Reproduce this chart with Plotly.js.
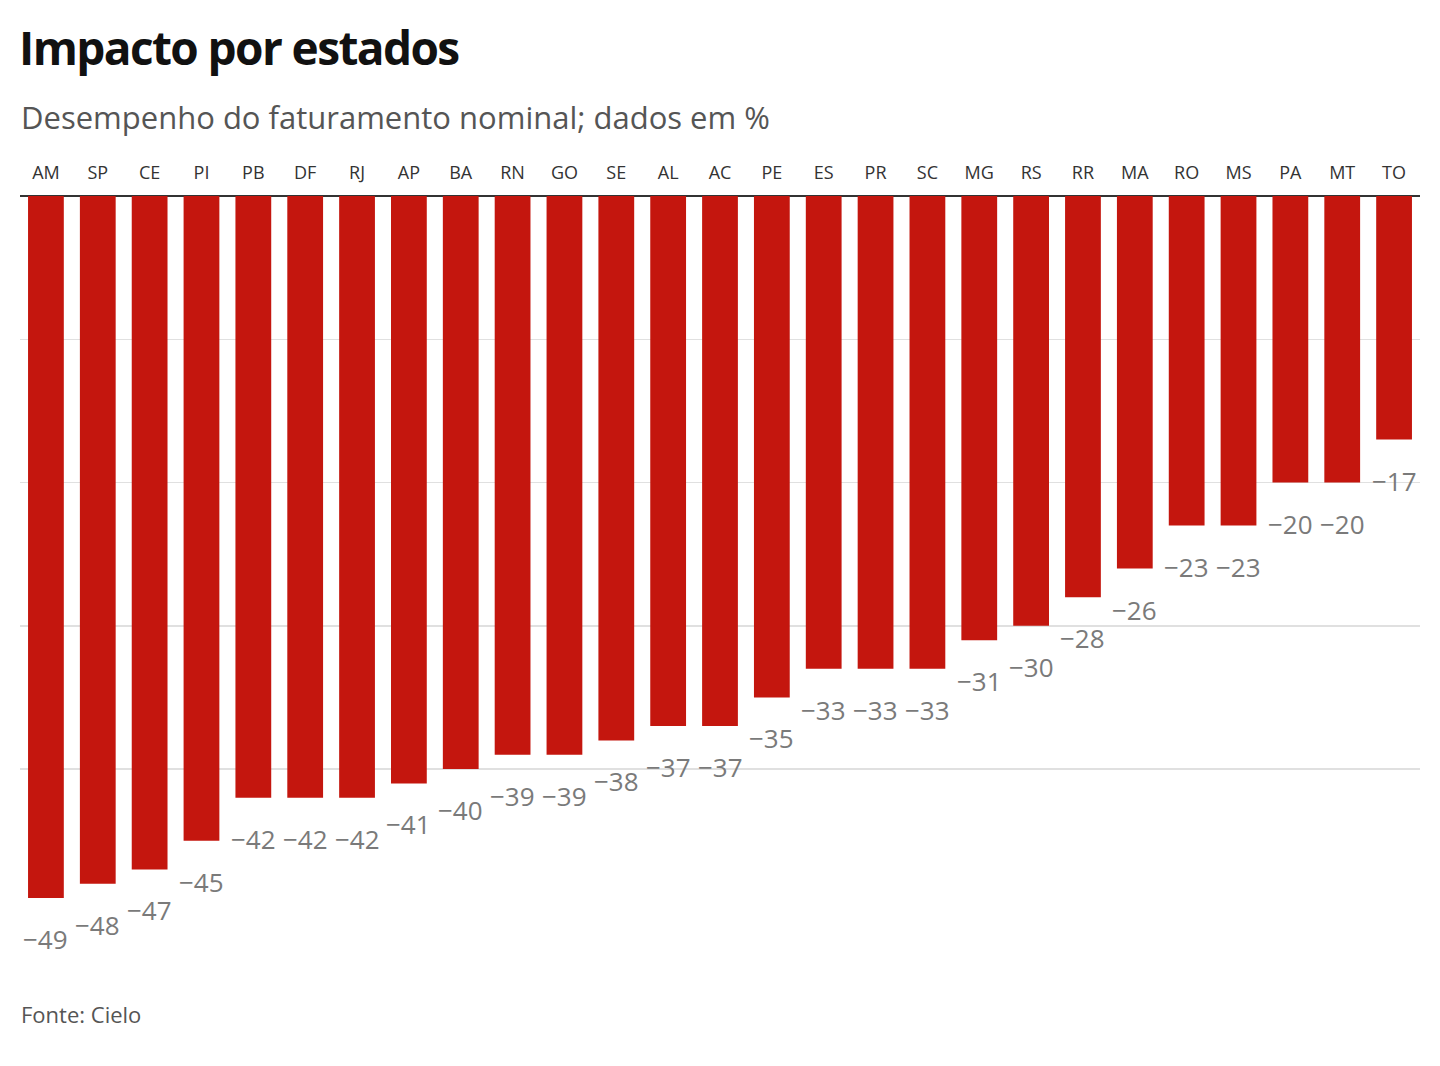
<!DOCTYPE html>
<html>
<head>
<meta charset="utf-8">
<script src="https://cdn.plot.ly/plotly-3.0.1.min.js"></script>
<style>
  body { margin: 0; background: #fff; }
  #chart { width: 1440px; height: 1066px; }
  .gtitle { letter-spacing: -1.6px; }
</style>
</head>
<body>
<div id="chart"></div>
<script>
/* ─── Impacto por estados ─── */

const estados = ['AM', 'SP', 'CE', 'PI', 'PB', 'DF', 'RJ', 'AP', 'BA', 'RN', 'GO', 'SE', 'AL', 'AC',
    'PE', 'ES', 'PR', 'SC', 'MG', 'RS', 'RR', 'MA', 'RO', 'MS', 'PA', 'MT', 'TO'];
const desempenho = [-49, -48, -47, -45, -42, -42, -42, -41, -40, -39, -39, -38, -37, -37,
    -35, -33, -33, -33, -31, -30, -28, -26, -23, -23, -20, -20, -17];
const gridVals = [-10, -20, -30, -40];

const FONT = 'Open Sans, Noto Sans, sans-serif';

const trace = {
    x: estados,
    y: desempenho,
    type: 'bar',
    marker: { color: '#C4160E' },
    hoverinfo: 'skip',
};

// Value labels below each bar end
const labels = estados.map((e, i) => ({
    x: e,
    y: desempenho[i],
    xref: 'x',
    yref: 'y',
    text: '\u2212' + Math.abs(desempenho[i]),
    showarrow: false,
    yanchor: 'middle',
    yshift: -41,
    font: { family: FONT, size: 26, color: '#7a7a7a' },
}));

const layout = {
    width: 1440,
    height: 1066,
    paper_bgcolor: '#fff',
    plot_bgcolor: '#fff',
    margin: { t: 196, r: 20, b: 82, l: 20 },
    bargap: 0.31,
    showlegend: false,
    title: {
        text: '<b>Impacto por estados</b>',
        font: { family: FONT, size: 46, color: '#111' },
        xref: 'container', yref: 'container',
        x: 19 / 1440, xanchor: 'left',
        y: 1 - 49 / 1066, yanchor: 'middle',
    },
    xaxis: {
        side: 'top',
        showgrid: false,
        showline: false,
        ticks: '',
        ticklabelstandoff: 12,
        tickfont: { family: FONT, size: 18, color: '#333' },
        fixedrange: true,
    },
    yaxis: {
        range: [-55, 0],
        tickvals: gridVals,
        showticklabels: false,
        gridcolor: '#e0e0e0',
        gridwidth: 1.5,
        zeroline: true,
        zerolinecolor: '#333',
        zerolinewidth: 2,
        fixedrange: true,
    },
    annotations: [
        ...labels,
        {
            text: 'Desempenho do faturamento nominal; dados em %',
            xref: 'paper', yref: 'paper',
            x: -1 / 1400, y: 1 + (196 - 117) / 788,
            xanchor: 'left', yanchor: 'middle',
            showarrow: false,
            font: { family: FONT, size: 31, color: '#555' },
        },
        {
            text: 'Fonte: Cielo',
            xref: 'paper', yref: 'paper',
            x: -1 / 1400, y: -(1014 - 984) / 788,
            xanchor: 'left', yanchor: 'middle',
            showarrow: false,
            font: { family: FONT, size: 22, color: '#555' },
        },
    ],
};

Plotly.newPlot('chart', [trace], layout, { displayModeBar: false, staticPlot: true });
</script>
</body>
</html>
